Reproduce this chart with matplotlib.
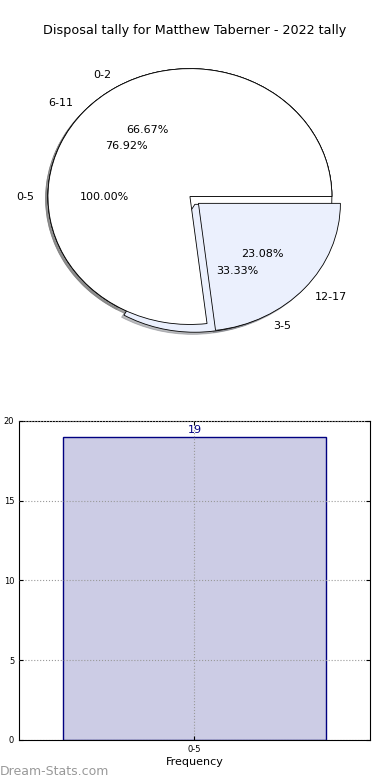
import matplotlib
matplotlib.use('Agg')
import matplotlib.pyplot as plt
from matplotlib.colors import to_rgba

title = 'Disposal tally for Matthew Taberner - 2022 tally'

# three overlaid pies, one per grouping
pie1_labels = ['0-5']
pie1_values = [19]
pie2_labels = ['0-2', '3-5']
pie2_values = [2, 1]
pie3_labels = ['6-11', '12-17']
pie3_values = [10, 3]

bar_labels = ['0-5']
bar_values = [19]

fig = plt.figure(figsize=(3.9, 7.8), dpi=100)

# pie part
ax1 = fig.add_axes([0.032, 0.543, 0.91, 0.41])
white = 'white'
pale = '#ebf0fd'
shadow = {'ox': -0.012, 'oy': -0.012, 'shade': 0.5}
wp = {'edgecolor': 'black', 'linewidth': 0.6}
ax1.pie(pie1_values, labels=pie1_labels, autopct='%.2f%%', colors=[white],
        shadow=shadow, wedgeprops=wp, textprops={'fontsize': 8})
ax1.pie(pie2_values, labels=pie2_labels, autopct='%.2f%%', colors=[white, pale],
        explode=[0, 0.07], shadow=shadow, wedgeprops=wp,
        textprops={'fontsize': 8})
ax1.pie(pie3_values, labels=pie3_labels, autopct='%.2f%%', colors=[white, pale],
        explode=[0, 0.08], shadow=shadow, wedgeprops=wp,
        textprops={'fontsize': 8})
ax1.set_aspect('auto')
ax1.set_xlim(-1.25, 1.25)
ax1.set_ylim(-1.25, 1.25)
fig.text(0.5, 0.961, title, ha='center', va='center', fontsize=9.2)

# bar part
ax2 = fig.add_axes([0.0487, 0.0513, 0.9, 0.409])
x = list(range(len(bar_labels)))
ax2.bar(x, bar_values, width=0.75, color=to_rgba('navy', 0.2),
        edgecolor='navy', linewidth=1)
for xi, v in zip(x, bar_values):
    ax2.text(xi, v + 0.15, str(v), ha='center', va='bottom', color='navy', fontsize=8)
ax2.set_xlim(-0.5, len(bar_labels) - 0.5)
ax2.set_ylim(0, 20)
ax2.set_yticks([0, 5, 10, 15, 20])
ax2.set_xticks(x)
ax2.set_xticklabels(bar_labels)
ax2.tick_params(labelsize=6, direction='in', top=True, right=True, length=3)
ax2.grid(True, linestyle=':', color='#999999', linewidth=0.8)
ax2.set_axisbelow(False)
ax2.set_xlabel('Frequency', fontsize=8, labelpad=2)
ax2.set_ylabel('Disposal Tally', fontsize=8, labelpad=2)
ax2.yaxis.set_label_coords(-0.07, 0.5)

fig.text(0.0, 0.003, 'Dream-Stats.com', color='#999999', fontsize=9,
         ha='left', va='bottom')

fig.savefig('out.png', dpi=100)
